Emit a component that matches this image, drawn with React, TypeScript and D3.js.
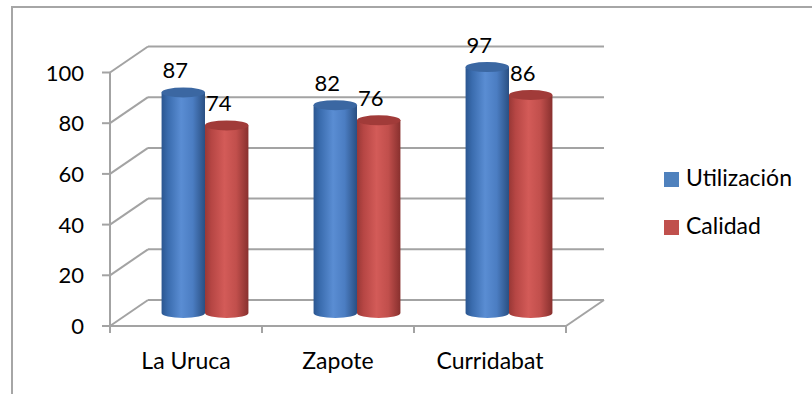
import React from "react";
import * as d3 from "d3";

const categories = ["La Uruca", "Zapote", "Curridabat"];
const seriesNames = ["Utilización", "Calidad"];
const utilizacion = [87, 82, 97];
const calidad = [74, 76, 86];
const yTicks = [0, 20, 40, 60, 80, 100];

const W = 812;
const H = 394;
const FONT = "Lato, 'Liberation Sans', sans-serif";

// oblique depth offset of the back wall
const DX = 38;
const DY = -26;
const GAP = 1.5; // gap width as a share of one bar

const palette = {
  "Utilización": {
    side: ["#2b5690", "#3a6cae", "#5a8dd3", "#4b7dc2", "#2a4f82"],
    top: "#3b67a2",
    key: "#4f81bd",
  },
  Calidad: {
    side: ["#993836", "#b64644", "#d35b58", "#c14f4c", "#88302e"],
    top: "#a13b39",
    key: "#c0504d",
  },
};

export default function App() {
  const x = d3.scaleBand<string>().domain(categories).range([110, 566]);
  const bw = x.bandwidth();
  const barW = bw / (seriesNames.length + GAP);
  const xs = d3
    .scaleBand<string>()
    .domain(seriesNames)
    .range([(barW * GAP) / 2, bw - (barW * GAP) / 2]);
  const y = d3.scaleLinear().domain([0, 100]).range([326, 72.5]);

  const values: Record<string, number[]> = {
    "Utilización": utilizacion,
    Calidad: calidad,
  };

  const x0 = x.range()[0];
  const x1 = x.range()[1];
  const grid = "#a3a3a3";
  const ry = 5;

  const bars: any[] = [];
  seriesNames.forEach((s) => {
    categories.forEach((c, i) => {
      const v = values[s][i];
      const cx = (x(c) as number) + (xs(s) as number) + xs.bandwidth() / 2 + DX / 2;
      const base = y(0) + DY / 2;
      const top = y(v) + DY / 2;
      bars.push({ s, c, v, cx, base, top });
    });
  });
  // draw left to right so each cylinder sits over its left neighbour
  bars.sort((a, b) => a.cx - b.cx);

  return (
    <svg width={W} height={H} style={{ display: "block", position: "absolute", left: 0, top: 0 }}>
      <defs>
        {seriesNames.map((s, k) => (
          <linearGradient key={s} id={`cyl${k}`} x1="0" x2="1" y1="0" y2="0">
            {palette[s].side.map((col: string, j: number) => (
              <stop key={j} offset={[0, 0.15, 0.45, 0.72, 1][j]} stopColor={col} />
            ))}
          </linearGradient>
        ))}
      </defs>
      <rect x={0} y={0} width={W} height={H} fill="#fff" />
      {/* chart frame */}
      <rect x={12} y={7} width={W + 20} height={H + 20} fill="none" stroke="#a6a6a6" strokeWidth={2} />

      {/* walls and floor */}
      <g stroke={grid} strokeWidth={2} fill="none">
        {yTicks.map((t) => (
          <g key={t}>
            <line x1={x0} y1={y(t)} x2={x0 + DX} y2={y(t) + DY} />
            <line x1={x0 + DX} y1={y(t) + DY} x2={x1 + DX} y2={y(t) + DY} />
            <line x1={x0 - 8} y1={y(t)} x2={x0} y2={y(t)} />
          </g>
        ))}
        <line x1={x0} y1={y(0)} x2={x0} y2={y(100)} />
        <line x1={x0} y1={y(0)} x2={x1} y2={y(0)} />
        <line x1={x1} y1={y(0)} x2={x1 + DX} y2={y(0) + DY} />
        {[...categories.map((c) => x(c) as number), x1].map((px, i) => (
          <line key={i} x1={px} y1={y(0)} x2={px} y2={y(0) + 7} />
        ))}
      </g>

      {/* cylinders */}
      {bars.map((b) => {
        const k = seriesNames.indexOf(b.s);
        const rx = xs.bandwidth() / 2;
        const l = b.cx - rx;
        const r = b.cx + rx;
        const side = `M${l},${b.top} L${l},${b.base} A${rx},${ry} 0 0 0 ${r},${b.base} L${r},${b.top} Z`;
        return (
          <g key={b.s + b.c}>
            <path d={side} fill={`url(#cyl${k})`} />
            <ellipse cx={b.cx} cy={b.top} rx={rx} ry={ry} fill={palette[b.s].top} />
          </g>
        );
      })}

      {/* value labels */}
      {bars.map((b) => (
        <text
          key={"l" + b.s + b.c}
          x={b.cx - 8}
          y={b.top - 14}
          textAnchor="middle"
          fontFamily={FONT}
          fontSize={22}
          fill="#000"
        >
          {b.v}
        </text>
      ))}

      {/* y tick labels */}
      {yTicks.map((t) => (
        <text key={t} x={84} y={y(t) + 8} textAnchor="end" fontFamily={FONT} fontSize={22} fill="#000">
          {t}
        </text>
      ))}

      {/* category labels */}
      {categories.map((c) => (
        <text
          key={c}
          x={(x(c) as number) + bw / 2}
          y={369}
          textAnchor="middle"
          fontFamily={FONT}
          fontSize={23}
          fill="#000"
        >
          {c}
        </text>
      ))}

      {/* legend */}
      {seriesNames.map((s, i) => (
        <g key={s} transform={`translate(664, ${172 + i * 48})`}>
          <rect x={0} y={0} width={15} height={15} fill={palette[s].key} />
          <text x={22} y={14} fontFamily={FONT} fontSize={23} fill="#000">
            {s}
          </text>
        </g>
      ))}
    </svg>
  );
}
